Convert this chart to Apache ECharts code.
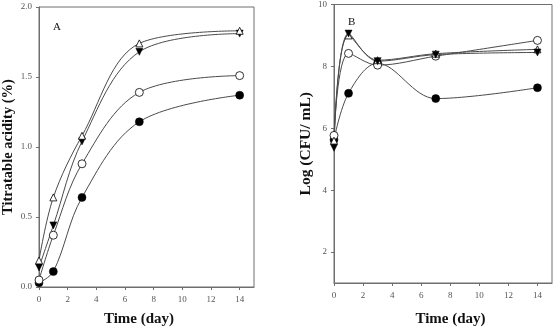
<!DOCTYPE html>
<html>
<head>
<meta charset="utf-8">
<script src="https://cdn.jsdelivr.net/npm/echarts@6/dist/echarts.min.js"></script>
<style>
  html, body { margin: 0; padding: 0; background: #fff; }
  #chart { width: 559px; height: 332px; }
</style>
</head>
<body>
<div id="chart"></div>
<script>
const days = [0, 1, 3, 7, 14];
const xTicks = [0, 2, 4, 6, 8, 10, 12, 14];

// panel A: titratable acidity (%)
const acidOpenTri = [0.19, 0.64, 1.08, 1.74, 1.83];
const acidFilledTri = [0.14, 0.44, 1.04, 1.68, 1.81];
const acidOpenCircle = [0.05, 0.37, 0.88, 1.39, 1.51];
const acidFilledCircle = [0.03, 0.11, 0.64, 1.18, 1.37];

// panel B: log (CFU/mL)
const logOpenTri = [5.6, 9.0, 8.2, 8.41, 8.55];
const logFilledTri = [5.37, 9.06, 8.17, 8.38, 8.45];
const logOpenCircle = [5.77, 8.42, 8.04, 8.33, 8.84];
const logFilledCircle = [5.63, 7.13, 8.1, 6.96, 7.31];
const logTicks = [2, 4, 6, 8, 10];

const serif = '"Liberation Serif", "DejaVu Serif", serif';
const axisGray = '#6e6e6e';
const lineGray = '#4a4a4a';

const chart = echarts.init(document.getElementById('chart'));

function pairs(vals) {
  return days.map((d, i) => [d, vals[i]]);
}

function makeSeries(idx, vals, kind) {
  const s = {
    type: 'line',
    xAxisIndex: idx,
    yAxisIndex: idx,
    data: pairs(vals),
    smooth: 0.35,
    symbolSize: 7,
    lineStyle: { color: lineGray, width: 1 },
    itemStyle: { color: '#000', borderColor: '#000', borderWidth: 1 },
    animation: false
  };
  if (kind === 'openTri') {
    s.symbol = 'triangle';
    s.itemStyle = { color: '#fff', borderColor: '#000', borderWidth: 0.8 };
  } else if (kind === 'filledTri') {
    s.symbol = 'triangle';
    s.symbolRotate = 180;
    s.itemStyle = { color: '#000', borderColor: '#000', borderWidth: 0.5 };
  } else if (kind === 'openCircle') {
    s.symbol = 'circle';
    s.symbolSize = 8;
    s.itemStyle = { color: '#fff', borderColor: '#000', borderWidth: 0.8 };
  } else {
    s.symbol = 'circle';
    s.symbolSize = 8;
    s.itemStyle = { color: '#000', borderColor: '#000', borderWidth: 0.5 };
  }
  return s;
}

function xAxisFor(idx, gap, pad) {
  return {
    type: 'value',
    gridIndex: idx,
    min: 0,
    max: 15,
    interval: 2,
    name: 'Time (day)',
    nameLocation: 'middle',
    nameGap: gap,
    nameTextStyle: { fontFamily: serif, fontWeight: 'bold', fontSize: 15, color: '#111', padding: pad },
    axisLine: { show: true, lineStyle: { color: axisGray, width: 1 } },
    axisTick: { show: true, length: 3, lineStyle: { color: axisGray }, customValues: xTicks },
    axisLabel: { fontFamily: serif, fontSize: 9, color: '#555', margin: 8, customValues: xTicks },
    splitLine: { show: false }
  };
}

const option = {
  backgroundColor: '#fff',
  animation: false,
  grid: [
    { left: 39, top: 7, width: 215, height: 286, show: true, borderColor: axisGray, borderWidth: 1 },
    { left: 334, top: 3, width: 218, height: 286, show: true, borderColor: axisGray, borderWidth: 1 }
  ],
  xAxis: [
    xAxisFor(0, 25, [0, 15, 0, 0]),
    xAxisFor(1, 29, [0, 0, 0, 15])
  ],
  yAxis: [
    {
      type: 'value',
      gridIndex: 0,
      min: 0,
      max: 2,
      interval: 0.5,
      name: 'Titratable acidity (%)',
      nameLocation: 'middle',
      nameGap: 23,
      nameTextStyle: { fontFamily: serif, fontWeight: 'bold', fontSize: 14.5, color: '#111' },
      axisLine: { show: true, lineStyle: { color: axisGray, width: 1 } },
      axisTick: { show: true, length: 3, lineStyle: { color: axisGray } },
      axisLabel: { fontFamily: serif, fontSize: 9, color: '#555', margin: 7, formatter: v => v.toFixed(1) },
      splitLine: { show: false }
    },
    {
      type: 'value',
      gridIndex: 1,
      min: 1,
      max: 10,
      name: 'Log (CFU/ mL)',
      nameLocation: 'middle',
      nameGap: 20,
      nameTextStyle: { fontFamily: serif, fontWeight: 'bold', fontSize: 15.5, color: '#111' },
      axisLine: { show: true, lineStyle: { color: axisGray, width: 1 } },
      axisTick: { show: true, length: 3, lineStyle: { color: axisGray }, customValues: logTicks },
      axisLabel: { fontFamily: serif, fontSize: 9, color: '#555', margin: 7, customValues: logTicks },
      splitLine: { show: false }
    }
  ],
  graphic: [
    { type: 'text', left: 53, top: 22, style: { text: 'A', font: '11px "Liberation Serif"', fill: '#111' } },
    { type: 'text', left: 348, top: 17, style: { text: 'B', font: '11px "Liberation Serif"', fill: '#111' } }
  ],
  series: [
    makeSeries(0, acidFilledCircle, 'filledCircle'),
    makeSeries(0, acidOpenCircle, 'openCircle'),
    makeSeries(0, acidFilledTri, 'filledTri'),
    makeSeries(0, acidOpenTri, 'openTri'),
    makeSeries(1, logFilledCircle, 'filledCircle'),
    makeSeries(1, logOpenCircle, 'openCircle'),
    makeSeries(1, logOpenTri, 'openTri'),
    makeSeries(1, logFilledTri, 'filledTri')
  ]
};

chart.setOption(option);
</script>
</body>
</html>
